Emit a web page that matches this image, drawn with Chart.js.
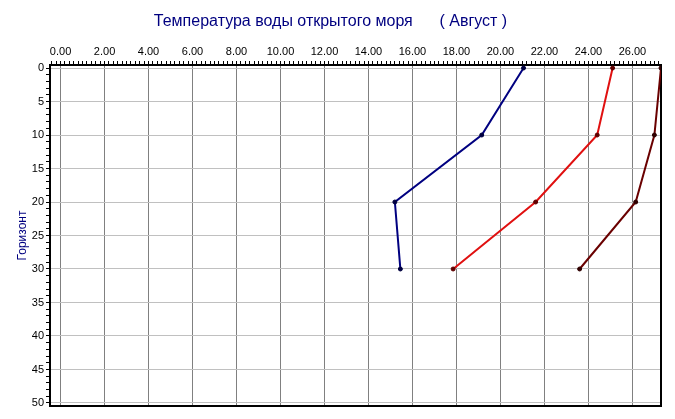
<!DOCTYPE html>
<html>
<head>
<meta charset="utf-8">
<script src="https://cdn.jsdelivr.net/npm/chart.js@4/dist/chart.umd.min.js"></script>
<style>
    body { margin: 0; background: #fff; }
    canvas { display: block; }
</style>
</head>
<body>
<canvas id="chart" width="675" height="419"></canvas>
<script>
// depth (Горизонт) and water temperature for each curve
var depths = [0, 10, 20, 30];
var tempBlue = [21.05, 19.15, 15.2, 15.45];
var tempRed = [25.1, 24.4, 21.6, 17.85];
var tempDark = [27.3, 27.0, 26.15, 23.6];

// labelled ticks
var xLabels = [0, 2, 4, 6, 8, 10, 12, 14, 16, 18, 20, 22, 24, 26];
var yLabels = [0, 5, 10, 15, 20, 25, 30, 35, 40, 45, 50];

var FONT = "'Liberation Sans', Arial, sans-serif";

function isLabel(list, v) {
    for (var i = 0; i < list.length; i++) {
        if (Math.abs(list[i] - v) < 1e-6) return true;
    }
    return false;
}

function isStep(v, step) {
    var n = v / step;
    return Math.abs(n - Math.round(n)) < 1e-6;
}

function points(temps) {
    var out = [];
    for (var i = 0; i < depths.length; i++) {
        out.push({x: temps[i], y: depths[i]});
    }
    return out;
}

function series(temps, color, dot) {
    return {
        data: points(temps),
        showLine: true,
        borderColor: color,
        borderWidth: 2,
        tension: 0,
        pointRadius: 2,
        pointBorderWidth: 1,
        pointBorderColor: dot,
        pointBackgroundColor: dot
    };
}

// black frame round the plot area
var framePlugin = {
    id: 'frame',
    beforeDatasetsDraw: function (chart) {
        var a = chart.chartArea;
        var ctx = chart.ctx;
        ctx.save();
        ctx.strokeStyle = '#000';
        ctx.lineWidth = 2;
        ctx.strokeRect(a.left, a.top, a.right - a.left, a.bottom - a.top);
        ctx.restore();
    }
};

new Chart(document.getElementById('chart'), {
    type: 'scatter',
    data: {
        datasets: [
            series(tempBlue, '#000080', '#000040'),
            series(tempRed, '#e01010', '#600000'),
            series(tempDark, '#6a0000', '#300000')
        ]
    },
    plugins: [framePlugin],
    options: {
        responsive: false,
        animation: false,
        layout: {padding: {left: 0, right: 14, top: 0, bottom: 13}},
        plugins: {
            legend: {display: false},
            tooltip: {enabled: false},
            title: {
                display: true,
                text: 'Температура воды открытого моря      ( Август )',
                color: '#000080',
                font: {family: FONT, size: 16, weight: 'normal'},
                padding: {top: 12, bottom: 6}
            }
        },
        scales: {
            x: {
                type: 'linear',
                position: 'top',
                min: -0.48,
                max: 27.3,
                afterFit: function (scale) { scale.height = 27.8; },
                border: {color: '#000', width: 2},
                grid: {
                    tickLength: 4,
                    color: function (c) {
                        return c.tick && isLabel(xLabels, c.tick.value) ? '#808080' : 'rgba(0,0,0,0)';
                    },
                    tickColor: function (c) {
                        return c.tick && isStep(c.tick.value, 0.2) ? '#000' : 'rgba(0,0,0,0)';
                    }
                },
                ticks: {
                    stepSize: 0.2,
                    includeBounds: false,
                    autoSkip: false,
                    maxRotation: 0,
                    padding: 2,
                    color: '#000',
                    font: {family: FONT, size: 11},
                    callback: function (v) {
                        return isLabel(xLabels, v) ? v.toFixed(2) : '';
                    }
                }
            },
            y: {
                type: 'linear',
                reverse: true,
                min: -0.45,
                max: 50.45,
                afterFit: function (scale) { scale.width = 50; },
                border: {color: '#000', width: 2},
                title: {
                    display: true,
                    text: 'Горизонт',
                    color: '#000080',
                    font: {family: FONT, size: 12},
                    padding: {top: 15, bottom: 0}
                },
                grid: {
                    tickLength: 4,
                    color: function (c) {
                        return c.tick && isLabel(yLabels, c.tick.value) ? '#c0c0c0' : 'rgba(0,0,0,0)';
                    },
                    tickColor: function (c) {
                        return c.tick && isStep(c.tick.value, 1) ? '#000' : 'rgba(0,0,0,0)';
                    }
                },
                ticks: {
                    stepSize: 1,
                    includeBounds: false,
                    autoSkip: false,
                    padding: 2,
                    color: '#000',
                    font: {family: FONT, size: 11},
                    callback: function (v) {
                        return isLabel(yLabels, v) ? String(v) : '';
                    }
                }
            }
        }
    }
});
</script>
</body>
</html>
